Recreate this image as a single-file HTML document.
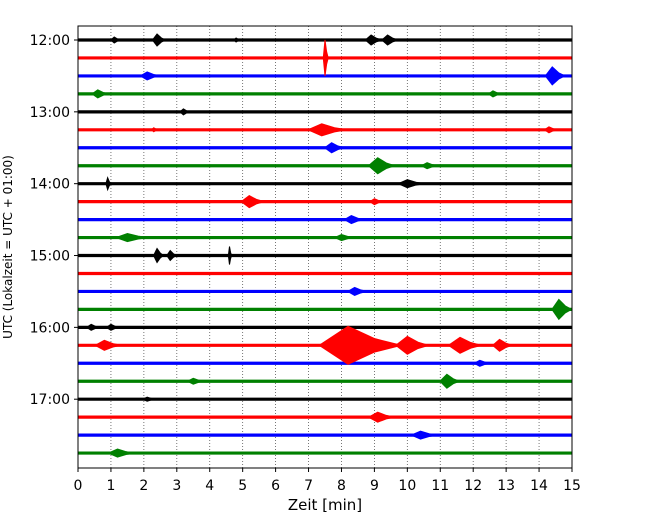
<!DOCTYPE html>
<html><head><meta charset="utf-8"><style>
html,body{margin:0;padding:0;background:#fff;}
svg text{font-family:"DejaVu Sans","Liberation Sans",sans-serif;}
</style></head><body>
<svg id="chart" width="650" height="520" xmlns="http://www.w3.org/2000/svg">
<g id="grid"></g>
<g id="traces"></g>
<rect x="78" y="26" width="494" height="442" fill="none" stroke="#000" stroke-width="1"/>
<g id="xticks"></g>
<g id="yticks"></g>
<text x="325" y="510" font-size="15" text-anchor="middle">Zeit  [min]</text>
<text transform="translate(12,247) rotate(-90)" font-size="12" text-anchor="middle">UTC (Lokalzeit = UTC + 01:00)</text>
</svg>
<script>
const xTicks=[0,1,2,3,4,5,6,7,8,9,10,11,12,13,14,15];
const yTickLabels=["12:00","13:00","14:00","15:00","16:00","17:00"];
const traceColors=["#000000","#ff0000","#0000ff","#008000"];
const traceCount=24;
// events: [trace, minute, amplitude(px), duration(min)]
const eventTrace=[0,0,0,0,0,1,2,2,3,3,4,5,5,5,6,7,7,8,8,9,9,10,11,11,12,12,12,14,15,16,16,17,17,17,17,17,18,19,19,20,21,22,23];
const eventMinute=[1.1,2.4,4.8,8.9,9.4,7.5,2.1,14.4,0.6,12.6,3.2,2.3,7.4,14.3,7.7,9.1,10.6,0.9,10.0,5.2,9.0,8.3,1.5,8.0,2.4,2.8,4.6,8.4,14.6,0.4,1.0,8.2,10.0,11.6,12.8,0.8,12.2,3.5,11.2,2.1,9.1,10.4,1.2];
const eventAmp=[3,6,2,5,5,18,4,9,4,3,3,2,6,3,5,8,3,6,4,6,3,4,4,3,7,5,9,4,10,3,3,19,9,8,6,5,3,3,7,2,5,4,4];
const eventDur=[0.3,0.4,0.2,0.5,0.5,0.15,0.6,0.6,0.5,0.4,0.3,0.2,1.2,0.4,0.6,0.8,0.5,0.15,0.8,0.7,0.4,0.6,1.0,0.6,0.3,0.3,0.1,0.6,0.6,0.4,0.4,2.5,1.0,1.0,0.6,0.8,0.5,0.5,0.6,0.4,0.8,0.8,0.8];
const NS="http://www.w3.org/2000/svg";
const X0=78,X1=572,Y0=40,DY=17.96;
const xs=m=>X0+(m-0)/15*(X1-X0);
const ys=i=>Y0+i*DY;
function mk(tag,attrs,parent){const e=document.createElementNS(NS,tag);for(const k in attrs)e.setAttribute(k,attrs[k]);parent.appendChild(e);return e;}
const grid=document.getElementById('grid'),tr=document.getElementById('traces'),xt=document.getElementById('xticks'),yt=document.getElementById('yticks');
xTicks.forEach(t=>{
  if(t>0&&t<15){const g=mk('line',{x1:xs(t),x2:xs(t),y1:26,y2:468,stroke:'#555','stroke-width':0.8,'stroke-dasharray':'1,2'},grid);
  
  }
  const tk=mk('line',{x1:xs(t),x2:xs(t),y1:468,y2:472,stroke:'#000'},xt);
  
  
  const tx=mk('text',{x:xs(t),y:490,'font-size':14,'text-anchor':'middle'},xt);tx.textContent=t;
  
  
});
yTickLabels.forEach((l,k)=>{
  const y=ys(k*4);
  const tk=mk('line',{x1:74,x2:78,y1:y,y2:y,stroke:'#000'},yt);
  
  
  const tx=mk('text',{x:70,y:y+5,'font-size':14,'text-anchor':'end'},yt);tx.textContent=l;
  
  
});
for(let i=0;i<traceCount;i++){
  const c=traceColors[i%4];
  const ln=mk('line',{x1:X0,x2:X1,y1:ys(i),y2:ys(i),stroke:c,'stroke-width':3.2},tr);
  
  
}
eventMinute.forEach((m,k)=>{
  const i=eventTrace[k],a=eventAmp[k],d=eventDur[k],y=ys(i),c=traceColors[i%4];
  const xa=xs(Math.max(0,m-d*0.35)),xp=xs(m),xb=xs(Math.min(15,m+d*0.65));
  const pts=[[xa,y],[xp,y-a],[(xp+xb)/2,y-a*0.35],[xb,y],[(xp+xb)/2,y+a*0.35],[xp,y+a]];
  const p=mk('polygon',{points:pts.map(q=>q.join(',')).join(' '),fill:c,stroke:c,'stroke-width':1},tr);
  
  
});
</script>
</body></html>
